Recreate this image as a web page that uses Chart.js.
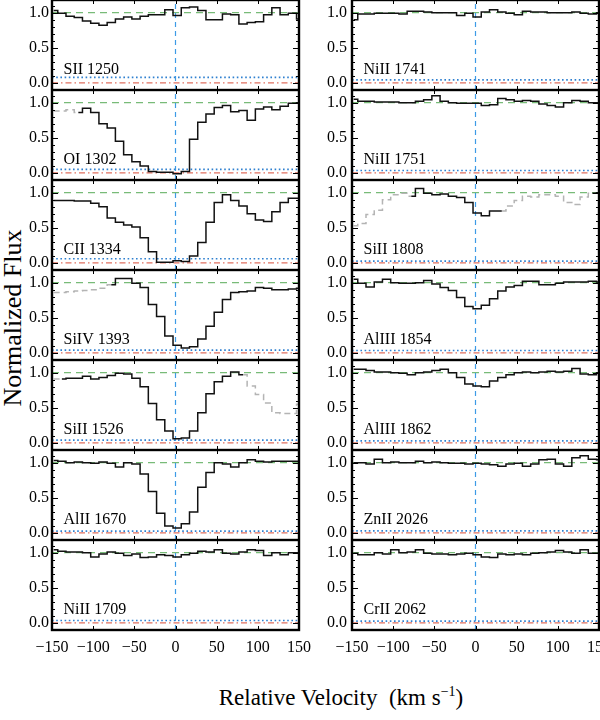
<!DOCTYPE html>
<html>
<head>
<meta charset="utf-8">
<script src="https://cdn.jsdelivr.net/npm/chart.js@4.4.0/dist/chart.umd.min.js"></script>
<style>
  body { margin: 0; background: #fff; }
  #figure { position: relative; width: 600px; height: 720px; overflow: hidden; font-family: 'Liberation Serif', serif; color: #000; }
  #figure canvas { position: absolute; }
  #ytitle { position: absolute; left: -137px; top: 305px; width: 300px; height: 26px; line-height: 26px; font-size: 26px; text-align: center; transform: rotate(-90deg); }
  #xtitle { position: absolute; left: 141px; top: 686px; width: 400px; line-height: 23px; font-size: 23px; text-align: center; white-space: pre; }
  #xtitle sup { font-size: 14px; vertical-align: 9px; line-height: 0; }
</style>
</head>
<body>
<div id="figure">
  <div id="ytitle">Normalized Flux</div>
  <div id="xtitle">Relative Velocity  (km s<sup>−1</sup>)</div>
</div>
<script>
// bin centres (km/s)
const velocity = [-148,-138,-128,-118,-108,-98,-88,-78,-68,-58,-48,-38,-28,-18,-8,2,12,22,32,42,52,62,72,82,92,102,112,122,132,142,152];

// normalized flux per transition
const sII1250  = [1.03,0.99,0.95,0.93,0.88,0.85,0.82,0.86,0.91,0.94,0.91,0.95,0.97,0.97,1.04,0.96,1.07,1.08,1.03,0.90,0.90,0.98,0.97,0.84,0.86,0.87,0.97,1.07,0.97,0.99,0.91];
const oI1302   = [0.88,0.88,0.90,0.86,0.92,0.86,0.70,0.64,0.45,0.26,0.16,0.10,0.02,0.01,0.01,-0.01,0.02,0.48,0.72,0.84,0.93,0.96,0.87,0.89,0.75,0.91,0.94,0.90,0.95,0.99,1.00];
const cII1334  = [0.89,0.89,0.89,0.88,0.88,0.85,0.80,0.64,0.58,0.54,0.51,0.36,0.16,0.01,0.01,0.03,0.02,0.10,0.29,0.58,0.86,0.97,0.89,0.81,0.70,0.61,0.59,0.73,0.86,0.92,0.92];
const siIV1393 = [0.86,0.86,0.87,0.88,0.89,0.90,0.92,0.97,1.06,1.06,0.99,0.93,0.69,0.52,0.24,0.11,0.07,0.09,0.20,0.38,0.58,0.76,0.86,0.87,0.88,0.93,0.92,0.90,0.90,0.91,0.92];
const siII1526 = [0.91,0.91,0.92,0.92,0.95,0.91,0.93,0.96,0.99,0.98,0.92,0.80,0.56,0.33,0.17,0.06,0.07,0.17,0.43,0.70,0.87,0.95,1.01,0.97,0.81,0.69,0.57,0.43,0.42,0.42,0.55];
const alII1670 = [1.03,1.02,1.00,1.01,1.00,0.99,1.01,0.99,0.94,1.00,0.98,0.84,0.59,0.28,0.10,0.07,0.13,0.30,0.65,0.86,1.00,0.98,0.94,1.00,1.04,1.02,1.01,1.02,1.02,1.02,1.02];
const niII1709 = [1.04,1.02,1.01,1.01,1.00,0.94,0.98,1.01,0.99,0.96,0.98,0.93,0.94,0.97,0.96,0.94,0.97,0.99,1.02,1.01,1.04,0.99,0.98,1.01,1.04,1.03,0.96,1.00,0.97,1.00,1.00];
const niII1741 = [0.90,0.98,0.98,0.99,0.99,0.99,0.98,1.02,1.02,1.01,1.00,1.00,1.00,0.96,0.99,0.94,1.01,1.04,1.01,0.99,0.97,1.02,1.01,1.01,1.00,1.00,1.00,1.01,0.99,0.98,1.00];
const niII1751 = [1.05,1.02,1.02,1.01,1.01,1.01,1.00,1.00,1.02,1.04,1.10,1.02,1.00,0.99,0.99,0.99,0.96,0.97,1.06,1.04,1.02,1.03,1.02,0.98,0.96,0.94,1.00,1.03,1.02,1.00,1.00];
const siII1808 = [0.53,0.56,0.69,0.75,0.90,0.97,0.99,0.95,1.06,0.99,0.97,0.98,0.95,0.93,0.86,0.71,0.67,0.74,0.74,0.81,0.89,0.95,0.94,0.97,0.97,0.95,0.86,0.83,0.94,0.99,1.00];
const alIII1854 = [1.05,0.99,0.94,1.01,1.05,1.00,0.99,0.99,1.00,1.03,0.98,0.93,0.89,0.79,0.66,0.63,0.68,0.77,0.88,0.94,0.96,1.02,1.02,0.97,0.97,0.99,1.01,1.01,1.01,1.02,1.01];
const alIII1862 = [1.05,1.05,1.03,1.01,1.01,1.00,0.99,0.97,1.00,1.01,1.03,1.05,1.00,0.93,0.84,0.81,0.80,0.88,0.93,0.97,1.00,1.01,1.00,1.01,1.02,1.01,1.02,1.06,0.98,0.97,1.00];
const znII2026 = [1.00,1.00,0.98,1.05,1.00,1.01,1.00,1.00,1.02,1.00,1.01,1.00,0.99,0.99,0.98,0.99,0.98,0.97,0.95,0.98,0.99,0.95,0.98,1.04,1.05,0.98,0.95,1.07,1.10,1.05,1.04];
const crII2062 = [0.99,0.97,0.97,1.00,0.98,1.04,1.00,1.01,1.04,0.99,0.98,0.98,0.97,0.98,0.99,0.97,0.94,0.93,0.98,0.97,0.98,0.97,0.99,1.00,1.01,1.03,1.01,0.99,1.04,0.99,0.99];

// panel order: left column top->bottom, then right column
const lineNames = ['SII 1250','OI 1302','CII 1334','SiIV 1393','SiII 1526','AlII 1670','NiII 1709',
                   'NiII 1741','NiII 1751','SiII 1808','AlIII 1854','AlIII 1862','ZnII 2026','CrII 2062'];
const fluxes = [sII1250,oI1302,cII1334,siIV1393,siII1526,alII1670,niII1709,
                niII1741,niII1751,siII1808,alIII1854,alIII1862,znII2026,crII2062];
// 1-sigma error level (blue dotted)
const errorLevel = [0.08,0.05,0.06,0.04,0.04,0.025,0.035,0.045,0.035,0.025,0.035,0.03,0.03,0.025];
// velocity ranges shown grey (blended / not used)
const blendRanges = [[],[[-160,-123]],[],[[-160,-83]],[[-160,-135],[85,200]],[],[],
                     [],[],[[-160,-83],[30,137]],[],[],[],[]];

const yLabelTicks = [0, 0.5, 1];
const yMinorTicks = [-0.1,0,0.1,0.2,0.3,0.4,0.5,0.6,0.7,0.8,0.9,1,1.1];
const xLabelTicks = [-150,-100,-50,0,50,100,150];
const xMajorTicks = [-100,-50,0,50,100];

Chart.defaults.font.family = "'Liberation Serif', 'Times New Roman', serif";
Chart.defaults.color = '#000';

const framePlugin = {
  id: 'frame',
  afterDatasetsDraw(chart, args, opts) {
    const { ctx, chartArea: a, scales: { x, y } } = chart;
    ctx.save();
    ctx.strokeStyle = '#000';
    ctx.lineWidth = 1;
    ctx.beginPath();
    yMinorTicks.forEach(v => {
      const py = Math.round(y.getPixelForValue(v)) + 0.5;
      const len = yLabelTicks.includes(v) ? 6 : 3;
      ctx.moveTo(a.left, py); ctx.lineTo(a.left + len, py);
      ctx.moveTo(a.right, py); ctx.lineTo(a.right - len, py);
    });
    xMajorTicks.forEach(v => {
      const px = Math.round(x.getPixelForValue(v)) + 0.5;
      ctx.moveTo(px, a.top); ctx.lineTo(px, a.top + 4);
      ctx.moveTo(px, a.bottom); ctx.lineTo(px, a.bottom - 4);
    });
    ctx.stroke();
    ctx.lineWidth = 2.4;
    ctx.strokeRect(a.left, a.top, a.width, a.height);
    ctx.fillStyle = '#000';
    ctx.font = "16px 'Liberation Serif'";
    ctx.textBaseline = 'alphabetic';
    ctx.fillText(opts.text, x.getPixelForValue(-136), y.getPixelForValue(0.13));
    ctx.restore();
  }
};

function inBlend(ranges, v) {
  return ranges.some(r => v >= r[0] && v <= r[1]);
}

function hline(yv, color, dash, width) {
  return {
    data: [{ x: -150, y: yv }, { x: 150, y: yv }],
    borderColor: color, borderDash: dash, borderWidth: width,
    pointRadius: 0, fill: false
  };
}

const figure = document.getElementById('figure');

lineNames.forEach((name, i) => {
  const col = i < 7 ? 0 : 1;
  const row = i % 7;
  const bottom = row === 6;
  const canvas = document.createElement('canvas');
  canvas.width = 320;
  canvas.height = bottom ? 130 : 90;
  canvas.style.left = (col * 300) + 'px';
  canvas.style.top = (row * 90) + 'px';
  canvas.style.width = canvas.width + 'px';
  canvas.style.height = canvas.height + 'px';
  figure.appendChild(canvas);

  const flux = fluxes[i];
  const ranges = blendRanges[i];

  new Chart(canvas.getContext('2d'), {
    type: 'line',
    data: {
      datasets: [
        {
          data: velocity.map((v, k) => ({ x: v, y: flux[k] })),
          stepped: 'middle',
          borderColor: '#111',
          borderWidth: 1.5,
          pointRadius: 0,
          fill: false,
          segment: {
            borderColor: c => inBlend(ranges, (velocity[c.p0DataIndex] + velocity[c.p1DataIndex]) / 2) ? '#b4b4b4' : '#111',
            borderDash: c => inBlend(ranges, (velocity[c.p0DataIndex] + velocity[c.p1DataIndex]) / 2) ? [6, 4] : []
          }
        },
        {
          data: [{ x: 0, y: -0.1 }, { x: 0, y: 1.18 }],
          borderColor: '#3d9be6', borderDash: [5, 4], borderWidth: 1.2,
          pointRadius: 0, fill: false
        },
        hline(errorLevel[i], '#2f80d0', [1.6, 2.6], 1.7),
        hline(1, '#78bb78', [7, 5], 1.1),
        hline(0, '#e07060', [6, 3, 1.5, 3], 1.2)
      ]
    },
    options: {
      responsive: false,
      maintainAspectRatio: false,
      animation: false,
      events: [],
      layout: { autoPadding: false, padding: { left: 0, right: 21, top: 0, bottom: 0 } },
      plugins: { legend: { display: false }, tooltip: { enabled: false }, frame: { text: name } },
      scales: {
        x: {
          type: 'linear', min: -150, max: 150,
          display: bottom,
          grid: { display: false, drawTicks: false },
          border: { display: false },
          afterBuildTicks: s => { s.ticks = xLabelTicks.map(v => ({ value: v })); },
          afterFit: s => { s.height = bottom ? 40 : 0; s.paddingLeft = 0; s.paddingRight = 0; },
          ticks: {
            padding: 8, maxRotation: 0, autoSkip: false,
            font: { size: 16 }, color: '#000',
            callback: v => String(v).replace('-', '\u2212')
          }
        },
        y: {
          type: 'linear', min: -0.1, max: 1.18,
          grid: { display: false, drawTicks: false },
          border: { display: false },
          afterBuildTicks: s => { s.ticks = yLabelTicks.map(v => ({ value: v })); },
          afterFit: s => { s.width = 52; s.paddingTop = 0; s.paddingBottom = 0; },
          ticks: {
            padding: col === 0 ? 3 : 5,
            font: { size: 16 }, color: '#000',
            callback: v => v.toFixed(1)
          }
        }
      }
    },
    plugins: [framePlugin]
  });
});
</script>
</body>
</html>
